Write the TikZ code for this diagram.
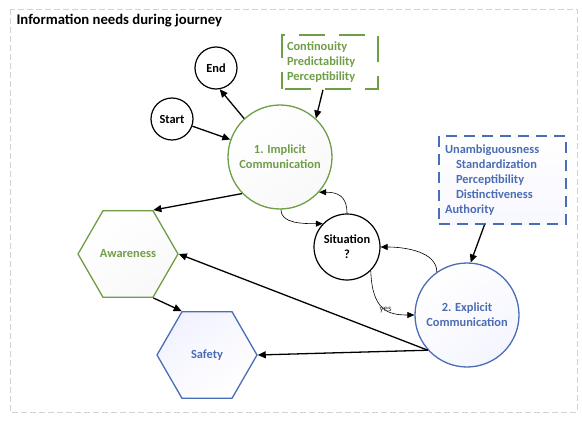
\documentclass[tikz,border=0pt]{standalone}
\usepackage{fontspec}
\setmainfont{Carlito}
\usetikzlibrary{shapes.geometric,arrows.meta}
\definecolor{grn}{HTML}{6E9E45}
\definecolor{grnt}{HTML}{6F9E47}
\definecolor{blu}{HTML}{4A6EB5}
\definecolor{blut}{HTML}{4B6DB3}
\definecolor{framec}{HTML}{D2D2D2}
\begin{document}
\begin{tikzpicture}[x=1pt,y=-1pt,
  txt/.style={font=\fontsize{12.4}{15}\selectfont\bfseries, align=center},
  smallc/.style={circle, draw=black, line width=1.2pt, inner sep=0pt, txt, fill=white},
  bigc/.style={circle, line width=1.3pt, minimum size=104pt, inner sep=0pt, txt},
  hexa/.style={regular polygon, regular polygon sides=6, minimum size=100pt, inner sep=0pt, line width=1.3pt, txt},
  dbox/.style={rectangle, line width=1.6pt, txt, align=left, inner ysep=0pt},
  arr/.style={-{Triangle[length=8pt,width=7pt]}, line width=1.3pt},
  tarr/.style={-{Triangle[length=7pt,width=6pt]}, line width=0.6pt}
]
\useasboundingbox (0,0) rectangle (582,423);
\draw[framec, line width=1pt, dash pattern=on 6pt off 3pt] (10,9) rectangle (577,412);
\node[anchor=west, font=\fontsize{14.7}{17}\selectfont\bfseries] (title) at (13,21) {Information needs during journey};

\node[smallc, minimum size=42pt] (en) at (216,68) {End};
\node[smallc, minimum size=42pt] (st) at (172,119) {Start};
\node[smallc, minimum size=66pt] (si) at (347,247) {Situation\\?};

\node[bigc, draw=grn, top color=white, bottom color=gray!5, shading angle=35, text=grnt] (im) at (280,157) {1. Implicit\\Communication};
\node[bigc, draw=blu, top color=white, bottom color=blue!4, shading angle=35, text=blut] (ex) at (467,315) {2. Explicit\\Communication};

\node[hexa, draw=grn, top color=white, bottom color=gray!5, shading angle=35, text=grnt] (aw) at (128,254) {Awareness};
\node[hexa, draw=blu, top color=blue!5, bottom color=white, shading angle=35, text=blut] (sf) at (207,355) {Safety};

\node[dbox, draw=grn, dash pattern=on 26pt off 14pt, dash phase=-3pt, text=grnt, minimum width=96pt, minimum height=54pt, text width=86pt, inner xsep=5pt, fill=white] (gb) at (330,62) {Continouity\\Predictability\\Perceptibility};
\node[dbox, draw=blu, dash pattern=on 11pt off 7pt, text=blut, minimum width=127pt, minimum height=88pt, text width=115pt, inner xsep=6pt, top color=white, bottom color=blue!3] (bb) at (502.5,180) {Unambiguousness\\\hspace*{11pt}Standardization\\\hspace*{11pt}Perceptibility\\\hspace*{11pt}Distinctiveness\\Authority};

\draw[arr] (st) -- (im);
\draw[arr] (im.133) -- (en.-80);
\draw[arr] ([xshift=-7pt]gb.south) -- (im.47);
\draw[arr] ([xshift=-18pt]bb.south) -- (ex.86);
\draw[arr] (im.224) -- (aw.60);
\draw[arr] (aw.-60) -- (sf.120);
\draw[arr] (ex.222) -- (aw.east);
\draw[arr] (ex.222) -- (sf.east);

\draw[tarr] (im.-89) to[out=-90,in=180,out distance=14pt,in distance=20pt] (si.136);
\draw[tarr] (si.90) to[out=90,in=0,out distance=18pt,in distance=18pt] (im.-42);
\draw[tarr] (ex.125) to[out=90,in=0,out distance=20pt,in distance=25pt] (si.east);
\draw[tarr] (si.-45) to[out=-88,in=180,out distance=40pt,in distance=26pt] node[pos=0.55, font=\fontsize{9}{10}\selectfont, text=black!80, inner sep=0pt] (yes) {yes} (ex.west);
\end{tikzpicture}
\end{document}
